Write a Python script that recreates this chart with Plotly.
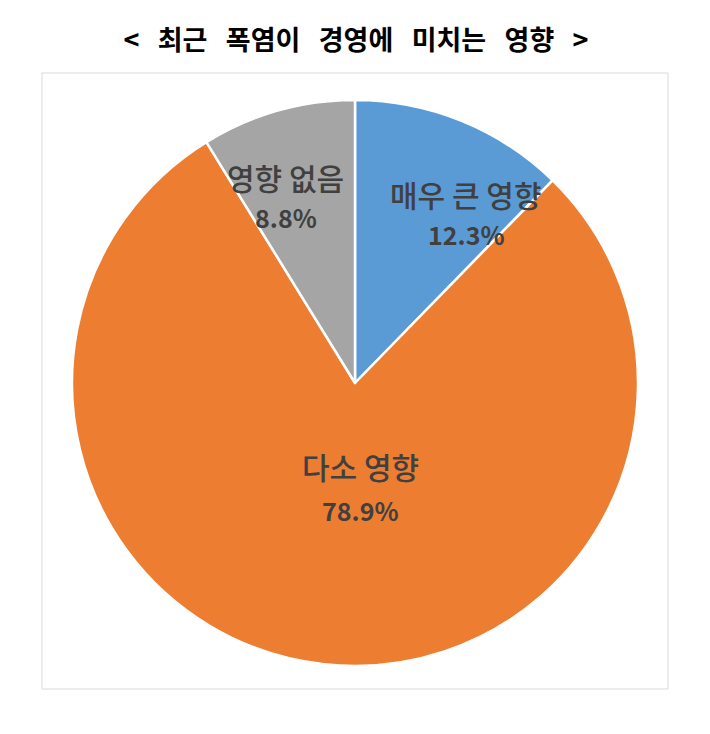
import math
import plotly.graph_objects as go

labels = ['매우 큰 영향', '다소 영향', '영향 없음']
values = [12.3, 78.9, 8.8]
colors = ['#5B9BD5', '#ED7D31', '#A5A5A5']

W, H = 710, 734
OFF = 8  # page body margin
cx, cy, R = 355 - OFF, 383 - OFF, 283

# label placement: radial fraction and horizontal nudge (px)
label_r = [0.728, 0.373, 0.764]
label_dx = [33, 17, -10]

fig = go.Figure(go.Pie(
    labels=labels,
    values=values,
    sort=False,
    direction='clockwise',
    rotation=0,
    marker=dict(colors=colors, line=dict(color='white', width=2.5)),
    textinfo='none',
    hoverinfo='label+value',
    showlegend=False,
    domain=dict(x=[(cx - R) / W, (cx + R) / W], y=[1 - (cy + R) / H, 1 - (cy - R) / H]),
))

total = sum(values)
cum = 0
for lab, val, rf, dx in zip(labels, values, label_r, label_dx):
    mid = (cum + val / 2) / total * 2 * math.pi
    cum += val
    px = cx + rf * R * math.sin(mid) + dx
    py = cy - rf * R * math.cos(mid)
    fig.add_annotation(x=px / W, y=1 - py / H, xref='paper', yref='paper',
                       text=lab, showarrow=False, yshift=22,
                       font=dict(family='Noto Sans CJK KR', size=30, color='#404040', weight=500))
    fig.add_annotation(x=px / W, y=1 - py / H, xref='paper', yref='paper',
                       text=f'<b>{val:.1f}%</b>', showarrow=False, yshift=-22,
                       font=dict(family='Noto Sans CJK KR', size=25, color='#404040'))

sp = '\u00a0\u00a0 '
title_text = sp.join(['&lt;', '최근', '폭염이', '경영에', '미치는', '영향', '&gt;'])

fig.update_layout(
    width=W, height=H,
    margin=dict(l=0, r=0, t=0, b=0),
    paper_bgcolor='white',
    title=dict(text=f'<b>{title_text}</b>',
               x=(356 - OFF) / W, xanchor='center', y=1 - (41 - OFF) / H, yanchor='middle',
               font=dict(family='Noto Sans CJK KR', size=27, color='black')),
    shapes=[dict(type='rect', xref='paper', yref='paper',
                 x0=(42 - OFF) / W, x1=(668 - OFF) / W,
                 y0=1 - (689 - OFF) / H, y1=1 - (73 - OFF) / H,
                 line=dict(color='#D9D9D9', width=1))],
)

fig.write_html('out.html')
